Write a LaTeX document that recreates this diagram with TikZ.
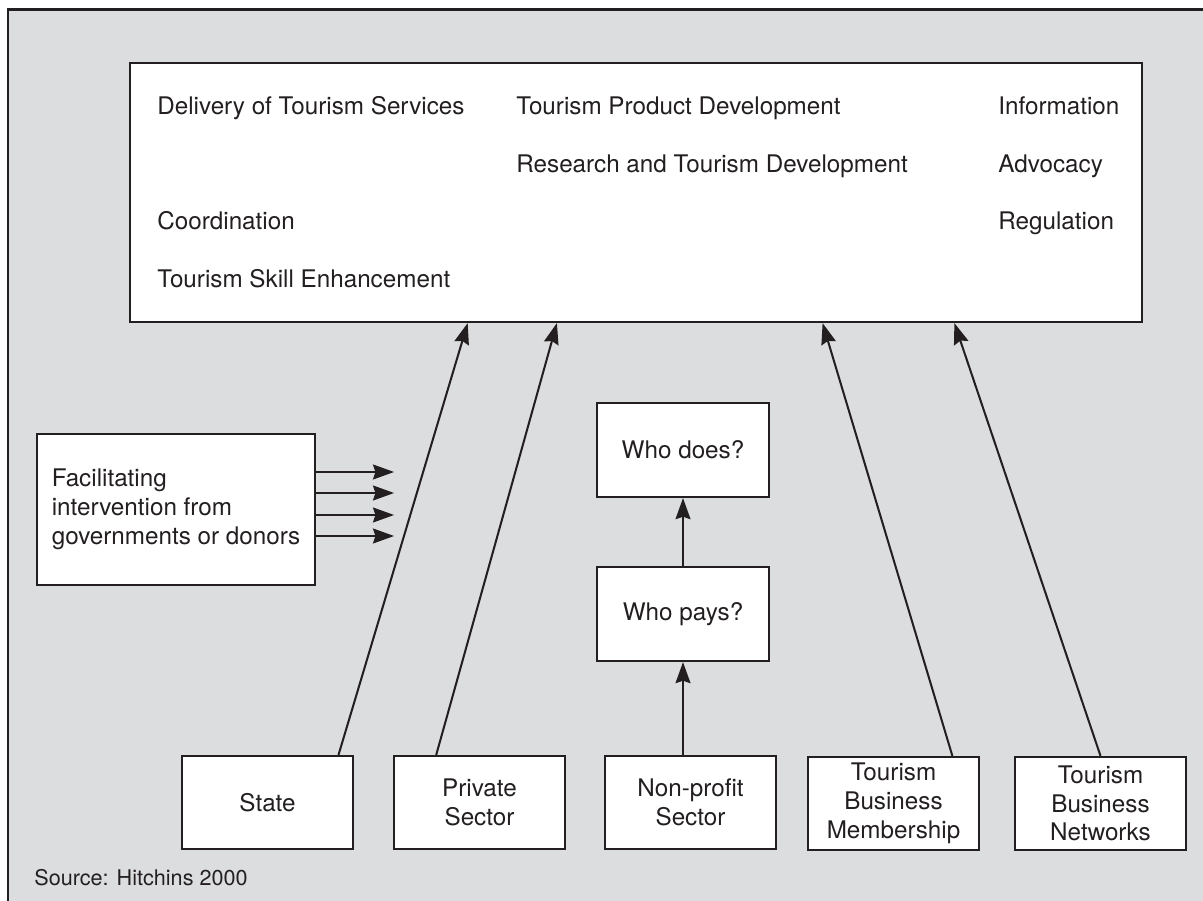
\documentclass[tikz,border=0pt]{standalone}
\usepackage{fontspec}
\setmainfont{TeX Gyre Heros}
\usetikzlibrary{arrows.meta,calc}

\definecolor{panel}{RGB}{220,221,223}
\definecolor{ink}{RGB}{35,31,32}

\begin{document}
\begin{tikzpicture}[x=0.02cm,y=-0.02cm,
    every node/.style={font=\fontsize{13.8}{16.4}\selectfont, text=ink},
    box/.style={draw=ink, fill=white, line width=1.25pt, align=center, inner sep=0pt},
    actor/.style={box, minimum width=3.42cm, minimum height=1.86cm},
    ask/.style={box, minimum width=3.44cm, minimum height=1.88cm},
    task/.style={anchor=base west, inner sep=0pt},
    arr/.style={draw=ink, line width=1.15pt, -{Stealth[length=12pt,width=8.5pt,inset=1.4pt]}}]

  % frame
  \useasboundingbox[fill=white] (0,0) rectangle (1203,901);
  \fill[panel] (8,10) rectangle (1203,901);
  \draw[ink, line width=1.7pt] (8,901) -- (8,10) -- (1203,10);

  % functions
  \node[box, minimum width=20.24cm, minimum height=5.18cm] (main) at (636,192.5) {};
  \node[task] (deliv) at (157,115) {Delivery of Tourism Services};
  \node[task] (product) at (516,115) {Tourism Product Development};
  \node[task] (info) at (998,115) {Information};
  \node[task] (research) at (516,173) {Research and Tourism Development};
  \node[task] (advoc) at (998,173) {Advocacy};
  \node[task] (coord) at (157,230) {Coordination};
  \node[task] (reg) at (998,230) {Regulation};
  \node[task] (skill) at (157,288) {Tourism Skill Enhancement};

  % intervention
  \node[box, minimum width=5.56cm, minimum height=3.02cm, align=left] (facil) at (176,509.5)
    {Facilitating\\intervention from\\governments or donors};
  \foreach \dy in {37.5,16.5,-5.5,-26.5}
    \draw[arr] ([yshift=\dy*0.02cm]facil.east) -- ++(78,0);

  \node[ask] (does) at (683,450) {Who does?};
  \node[ask] (pays) at (683,614) {Who pays?};

  % actors
  \node[actor] (state) at (267.5,802.5) {State};
  \node[actor] (private) at (479.5,802.5) {Private\\Sector};
  \node[actor] (nonprofit) at (690.5,802.5) {Non-profit\\Sector};
  \node[actor] (member) at (893.5,803.5) {Tourism\\Business\\Membership};
  \node[actor] (network) at (1100.5,803.5) {Tourism\\Business\\Networks};

  \draw[arr] (nonprofit.north -| pays.south) -- (pays.south);
  \draw[arr] (pays) -- (does);

  \draw[arr] ($(state.north west)!0.91!(state.north east)$) -- ($(main.south west)!0.334!(main.south east)$);
  \draw[arr] ($(private.north west)!0.25!(private.north east)$) -- ($(main.south west)!0.422!(main.south east)$);
  \draw[arr] ($(member.north west)!0.84!(member.north east)$) -- ($(main.south west)!0.684!(main.south east)$);
  \draw[arr] (network.north) -- ($(main.south west)!0.814!(main.south east)$);

  \node[anchor=base west, inner sep=0pt, font=\fontsize{12.3}{15}\selectfont] (source) at (34,885) {Source: Hitchins 2000};
\end{tikzpicture}
\end{document}
